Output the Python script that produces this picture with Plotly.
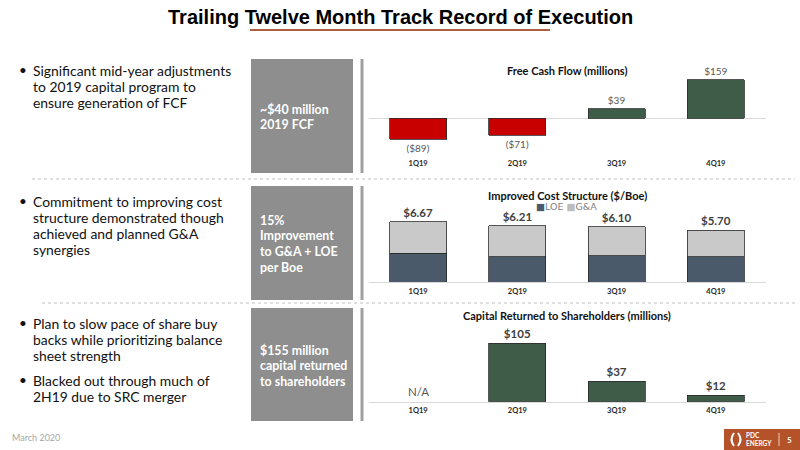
import plotly.graph_objects as go

W, H = 800, 450
def px(x): return x / W
def py(y): return 1 - y / H

quarters = ["1Q19", "2Q19", "3Q19", "4Q19"]
fcf = [-89, -71, 39, 159]
fcf_labels = ["($89)", "($71)", "$39", "$159"]
loe = [3.17, 2.80, 2.88, 2.80]
gna = [3.50, 3.41, 3.22, 2.90]
cost_labels = ["$6.67", "$6.21", "$6.10", "$5.70"]
cap_returned = [None, 105, 37, 12]
cap_labels = ["", "$105", "$37", "$12"]
na_label = "N/A"

RED = "#c80000"
GREEN = "#3f5c48"
LOE_C = "#4a5a6b"
GNA_C = "#c9c9c9"
OUT = "#2b2b2b"
BODY = "Lato"

fig = go.Figure()
fig.add_trace(go.Bar(
    x=quarters, y=fcf, xaxis="x", yaxis="y",
    marker=dict(color=[RED if v < 0 else GREEN for v in fcf], line=dict(color=OUT, width=0.8)),
    text=fcf_labels, textposition="outside", cliponaxis=False,
    textfont=dict(family=BODY, size=10, color="#595959"), showlegend=False))
fig.add_trace(go.Bar(
    x=quarters, y=loe, xaxis="x2", yaxis="y2", name="LOE",
    marker=dict(color=LOE_C, line=dict(color=OUT, width=0.8)), showlegend=False))
fig.add_trace(go.Bar(
    x=quarters, y=gna, xaxis="x2", yaxis="y2", name="G&A",
    marker=dict(color=GNA_C, line=dict(color=OUT, width=0.8)),
    text=cost_labels, textposition="outside", cliponaxis=False,
    textfont=dict(family=BODY, size=11.5, color="#404040", weight="bold"), showlegend=False))
fig.add_trace(go.Bar(
    x=quarters, y=cap_returned, xaxis="x3", yaxis="y3",
    marker=dict(color=GREEN, line=dict(color=OUT, width=0.8)),
    text=cap_labels, textposition="outside", cliponaxis=False,
    textfont=dict(family=BODY, size=11.5, color="#404040", weight="bold"), showlegend=False))

xdom = [px(368.5), px(765.5)]
tickfont = dict(family=BODY, size=7.5, color="#262626", weight="bold")
xcommon = dict(domain=xdom, type="category", showgrid=False, ticks="", tickfont=tickfont, zeroline=False)
ycommon = dict(showgrid=False, showticklabels=False, ticks="")

shapes = []
annotations = []

# Gray boxes and separators
for (y0, y1) in [(59, 173), (186, 300), (308, 421)]:
    shapes.append(dict(type="rect", xref="paper", yref="paper", x0=px(251), x1=px(353), y0=py(y1), y1=py(y0),
                       fillcolor="#8e8e8e", line=dict(width=0), layer="below"))
    shapes.append(dict(type="rect", xref="paper", yref="paper", x0=px(360.5), x1=px(363.5), y0=py(y1), y1=py(y0),
                       fillcolor="#a0a0a0", line=dict(width=0), layer="below"))
# dotted separators
shapes.append(dict(type="line", xref="paper", yref="paper", x0=px(32), x1=px(795), y0=py(179), y1=py(179),
                   line=dict(color="#c0c0c0", width=1, dash="dot")))
shapes.append(dict(type="line", xref="paper", yref="paper", x0=px(42), x1=px(795), y0=py(303), y1=py(303),
                   line=dict(color="#c0c0c0", width=1, dash="dot")))
# title underline
shapes.append(dict(type="line", xref="paper", yref="paper", x0=px(250), x1=px(550), y0=py(30), y1=py(30),
                   line=dict(color="#ad5f40", width=2)))
# logo box
shapes.append(dict(type="rect", xref="paper", yref="paper", x0=px(724), x1=px(800), y0=py(450), y1=py(429),
                   fillcolor="#b4532a", line=dict(width=0)))
shapes.append(dict(type="line", xref="paper", yref="paper", x0=px(779), x1=px(779), y0=py(446), y1=py(433),
                   line=dict(color="#f0d0c0", width=1)))
shapes.append(dict(type="path", xref="paper", yref="paper",
                   path=f"M {px(734):.5f} {py(433):.5f} Q {px(729):.5f} {py(439.5):.5f} {px(734):.5f} {py(446):.5f}",
                   line=dict(color="white", width=2)))
shapes.append(dict(type="path", xref="paper", yref="paper",
                   path=f"M {px(738):.5f} {py(433):.5f} Q {px(743):.5f} {py(439.5):.5f} {px(738):.5f} {py(446):.5f}",
                   line=dict(color="white", width=2)))

def ann(x, y, text, size, color="#000000", weight="normal", family=BODY, xanchor="left", **kw):
    annotations.append(dict(xref="paper", yref="paper", x=px(x), y=py(y), text=text, showarrow=False,
                            xanchor=xanchor, yanchor="middle",
                            font=dict(family=family, size=size, color=color, weight=weight), **kw))

# Title
ann(400, 17, "Trailing Twelve Month Track Record of Execution", 20, "#000000", "bold",
    family="Liberation Sans", xanchor="center")

# Left bullets
bullets = [
    (70, ["Significant mid-year adjustments", "to 2019 capital program to", "ensure generation of FCF"]),
    (201, ["Commitment to improving cost", "structure demonstrated though", "achieved and planned G&A", "synergies"]),
    (323, ["Plan to slow pace of share buy", "backs while prioritizing balance", "sheet strength"]),
    (380, ["Blacked out through much of", "2H19 due to SRC merger"]),
]
for y0, lines in bullets:
    ann(17, y0, "•", 13.5, "#111111")
    for i, line in enumerate(lines):
        ann(31, y0 + 16 * i, line, 13.9, "#111111")

# Box texts
boxes = [
    (109, ["~$40 million", "2019 FCF"]),
    (220, ["15%", "Improvement", "to G&A + LOE", "per Boe"]),
    (350, ["$155 million", "capital returned", "to shareholders"]),
]
for y0, lines in boxes:
    for i, line in enumerate(lines):
        ann(257.5, y0 + 15.8 * i, line, 12.4, "#ffffff", "bold")

# Chart titles
ann(567, 70, "Free Cash Flow (millions)", 11, "#111111", "bold", xanchor="center")
ann(567, 195, "Improved Cost Structure ($/Boe)", 11, "#111111", "bold", xanchor="center")
ann(567, 315.5, "Capital Returned to Shareholders (millions)", 11, "#111111", "bold", xanchor="center")

# Legend (chart 2)
ann(566, 206, f'<span style="color:{LOE_C}">■</span>LOE <span style="color:#bdbdbd">■</span>G&A',
    9.5, "#7f7f7f", family="DejaVu Sans", xanchor="center")

# N/A label
annotations.append(dict(xref="x3", yref="y3", x=quarters[0], y=0, text=na_label, showarrow=False,
                        yanchor="bottom", yshift=2, font=dict(family=BODY, size=11.5, color="#595959")))

# Footer
ann(10, 437, "March 2020", 9, "#a6a6a6")
ann(744, 435.5, "PDC", 6.5, "#ffffff", "bold")
ann(744, 443, "ENERGY", 6.5, "#ffffff", "bold")
ann(789, 439.5, "5", 8, "#ffffff", "bold", xanchor="center")

s1 = 0.24
s2 = 9.04
s3 = 0.556
fig.update_layout(
    width=W, height=H, margin=dict(l=0, r=0, t=0, b=0),
    paper_bgcolor="white", plot_bgcolor="rgba(0,0,0,0)",
    barmode="stack", bargap=0.425,
    font=dict(family=BODY),
    showlegend=False,
    xaxis=dict(**xcommon, anchor="y", showline=False, ticklabelstandoff=4),
    yaxis=dict(**ycommon, domain=[py(153), py(62)], range=[-(153 - 118) / s1, (118 - 62) / s1],
               zeroline=True, zerolinecolor="#d9d9d9", zerolinewidth=1),
    xaxis2=dict(**xcommon, anchor="y2", showline=True, linecolor="#d9d9d9", linewidth=1, ticklabelstandoff=2),
    yaxis2=dict(**ycommon, domain=[py(282), py(212)], range=[0, (282 - 212) / s2], zeroline=False),
    xaxis3=dict(**xcommon, anchor="y3", showline=True, linecolor="#d9d9d9", linewidth=1, ticklabelstandoff=1),
    yaxis3=dict(**ycommon, domain=[py(401.7), py(328)], range=[0, (401.7 - 328) / s3], zeroline=False),
    shapes=shapes, annotations=annotations,
)
fig.write_html("out.html", config={"displayModeBar": False},
               post_script="document.body.style.margin='0';document.body.style.overflow='hidden';")
